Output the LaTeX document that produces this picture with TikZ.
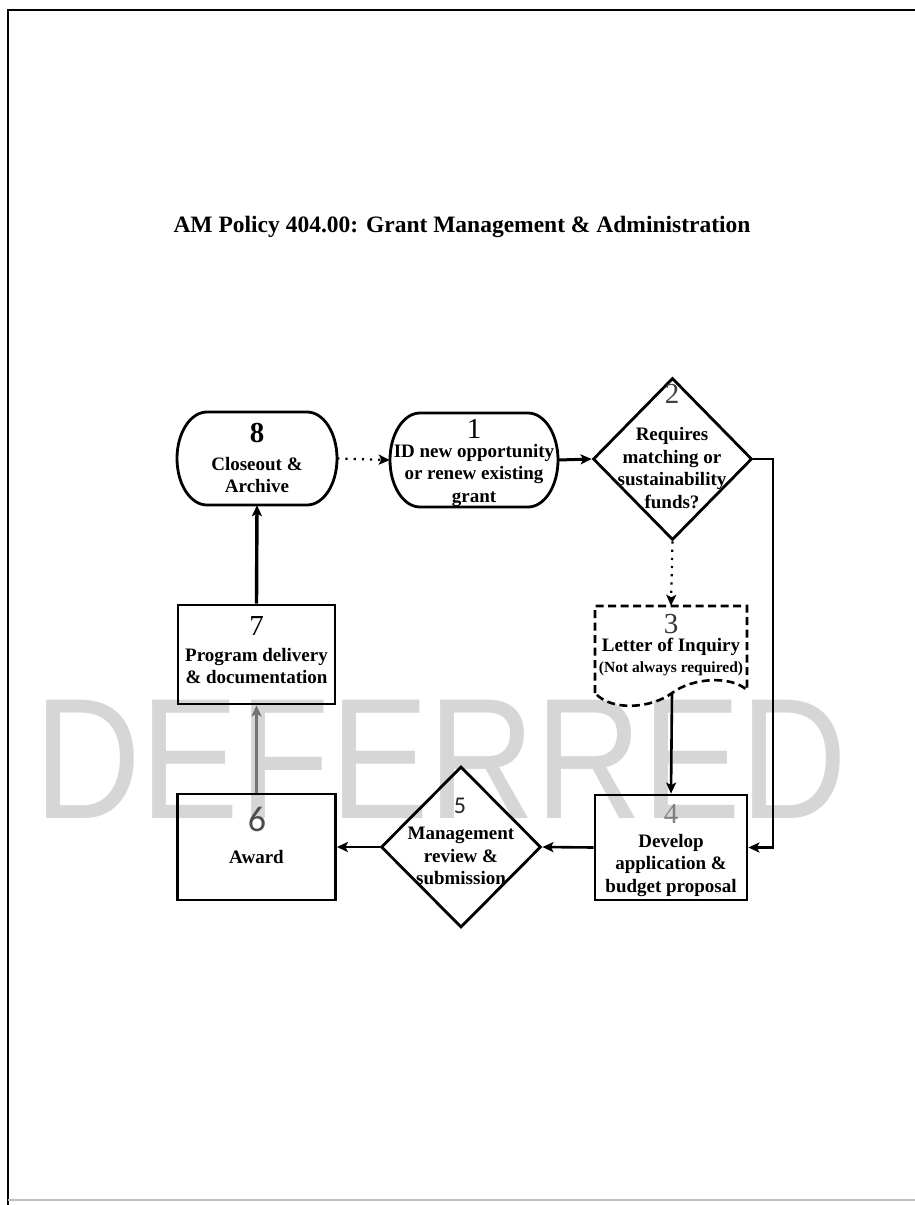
\documentclass[tikz,border=0pt]{standalone}
\usepackage{fontspec}
\setmainfont{Liberation Serif}
\newfontfamily\wmfont{Liberation Sans}
\newfontfamily\calfont{Carlito}
\usetikzlibrary{shapes.geometric,arrows.meta}
\begin{document}
\begin{tikzpicture}[x=1pt,y=1pt,
  shapeline/.style={line width=2.8pt, draw=black},
  rectbox/.style={shapeline, rectangle, inner sep=0pt},
  diam/.style={shapeline, diamond, minimum width=160pt, minimum height=161pt, inner sep=0pt},
  holder/.style={rectangle, draw=none, inner sep=0pt},
  lbl/.style={font=\bfseries\fontsize{19}{22.5}\selectfont, align=center, inner sep=0pt},
  num/.style={font=\fontsize{29}{29}\selectfont, inner sep=0pt},
  sfnum/.style={font=\calfont\fontsize{#1}{#1}\selectfont, inner sep=0pt},
  conn/.style={line width=2.6pt, -{Stealth[length=11pt,width=10pt,inset=2.5pt]}},
  dotconn/.style={conn, line width=2.2pt, dash pattern=on 2.2pt off 6pt}]
\useasboundingbox (0,0) rectangle (915,-1205);
\fill[white] (0,0) rectangle (915,-1205);
% page frame
\draw[line width=2.4pt] (8,-1205) -- (8,-10) -- (915,-10);
\draw[line width=1.5pt, black!25] (8,-1200) -- (915,-1200);
% watermark (behind)
\node[font=\wmfont\fontsize{172}{172}\selectfont, text=black!16, anchor=base, inner sep=0pt, xscale=0.86] (wm) at (441,-818) {DEFERRED};
% title
\node[font=\bfseries\fontsize{23.5}{26}\selectfont, inner sep=0pt] (title) at (462,-227) {AM Policy 404.00: Grant Management \& Administration};
% stadium nodes
\node[holder, minimum width=160pt, minimum height=93pt] (n8) at (257,-458.5) {};
\draw[line width=2.8pt] (207,-412) -- (307,-412) arc (90:-90:30 and 46.5) -- (207,-505) arc (270:90:30 and 46.5) -- cycle;
\node[holder, minimum width=168pt, minimum height=94pt] (n1) at (474,-460) {};
\draw[line width=2.8pt] (420,-413) -- (528,-413) arc (90:-90:30 and 47) -- (420,-507) arc (270:90:30 and 47) -- cycle;
% diamonds
\node[diam, minimum width=159pt, minimum height=162pt] (n2) at (672.5,-459) {};
\node[diam] (n5) at (461,-847) {};
% document shape (3)
\node[holder, minimum width=152pt, minimum height=94pt] (n3) at (671,-653) {};
\coordinate (c3) at (672,-693);
\draw[line width=2.6pt, dash pattern=on 8pt off 4.5pt] (595,-693) -- (595,-606) -- (747,-606) -- (747,-690)
  .. controls (730,-675) and (692,-678) .. (672,-693)
  .. controls (652,-708) and (612,-712) .. (595,-693);
% rectangles
\node[rectbox, minimum width=152pt, minimum height=105pt] (n4) at (671,-847.5) {};
\node[rectbox, minimum width=158pt, minimum height=106pt] (n6) at (256.5,-847) {};
\node[rectbox, minimum width=157pt, minimum height=99pt] (n7) at (256.5,-654.5) {};
% labels
\node[num, font=\bfseries\fontsize{29}{29}\selectfont] (t8n) at (257,-432.5) {8};
\node[lbl] (t8) at (257,-475) {Closeout \&\\Archive};
\node[num] (t1n) at (474,-429) {1};
\node[lbl] (t1) at (474,-475) {ID new opportunity\\or renew existing\\grant};
\node[num, text=black!75] (t2n) at (672,-394) {2};
\node[lbl] (t2) at (672,-468) {Requires\\matching or\\sustainability\\funds?};
\node[num, text=black!80] (t3n) at (671,-624) {3};
\node[lbl] (t3) at (671,-647) {Letter of Inquiry};
\node[lbl, font=\bfseries\fontsize{15.5}{17}\selectfont] (t3b) at (671,-669) {(Not always required)};
\node[num, text=black!50] (t4n) at (671,-814) {4};
\node[lbl] (t4) at (671,-865) {Develop\\application \&\\budget proposal};
\node[sfnum=24, text=black!85] (t5n) at (460,-805.5) {5};
\node[lbl] (t5) at (461,-856) {Management\\review \&\\submission};
\node[sfnum=36, text=black!70] (t6n) at (257,-819) {6};
\node[lbl] (t6) at (256.5,-857) {Award};
\node[num] (t7n) at (256.5,-626) {7};
\node[lbl] (t7) at (256.5,-666) {Program delivery\\\& documentation};
% connectors
\coordinate (c2r) at (773,-459);
\draw[dotconn] (n8.east) -- (n1.west);
\draw[conn, line width=3pt] (n1.east) -- (n2.west);
\draw[conn] (n2.east) -- (c2r) |- (n4.east);
\draw[dotconn] (n2.south) -- (n3.north);
\draw[conn] (c3) -- (n4.north);
\draw[conn] (n4.west) -- (n5.east);
\draw[conn] (n5.west) -- (n6.east);
\draw[conn, draw=black!55, fill=black!55] (n6.north) -- (n7.south);
\draw[conn, line width=3.4pt] (n7.north) -- (n8.south);
\end{tikzpicture}
\end{document}
